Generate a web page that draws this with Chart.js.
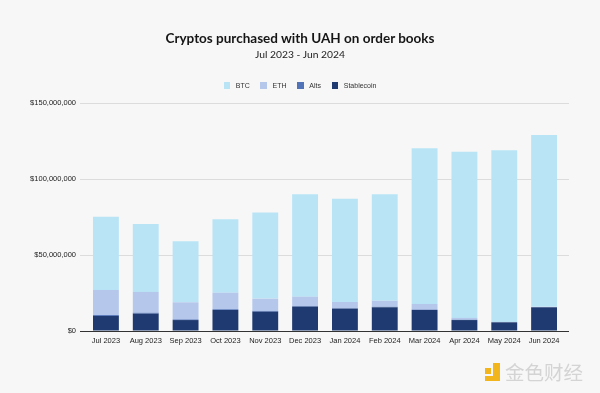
<!DOCTYPE html>
<html>
<head>
<meta charset="utf-8">
<script src="https://cdn.jsdelivr.net/npm/chart.js@4.4.1/dist/chart.umd.min.js"></script>
<style>
  html, body { margin: 0; padding: 0; background: #f7f7f7; }
  #wrap { position: relative; width: 600px; height: 393px; overflow: hidden; background: #f7f7f7; }
  canvas { position: absolute; left: 0; top: 0; }
  .title { position: absolute; left: 100px; width: 400px; text-align: center; white-space: nowrap; line-height: 1; }
  #t1 { top: 30.3px; font: bold 13.5px "Lato", "Open Sans", sans-serif; color: #151515; }
  #t2 { top: 47.6px; font: 10.3px "Lato", "Open Sans", sans-serif; color: #222; }
  #legend { position: absolute; top: 81.7px; left: 100px; width: 400px; display: flex; justify-content: center; font: 7px "Liberation Sans", Arial, sans-serif; color: #333; line-height: 8px; }
  #legend .item { display: flex; align-items: center; margin: 0 5.3px; }
  #legend .box { width: 6.7px; height: 6.7px; margin-right: 5.5px; }
  #wm { position: absolute; left: 505px; top: 361px; font: 19.5px "Noto Sans CJK SC", sans-serif; line-height: 22px; color: #d4d4d4; }
  #ic1 { position: absolute; left: 485px; top: 368px; width: 6px; height: 6px; background: #f2b51c; }
  #ic2 { position: absolute; left: 493px; top: 363px; width: 7px; height: 18px; background: #f2b51c; }
  #ic3 { position: absolute; left: 485px; top: 376px; width: 15px; height: 5px; background: #f2b51c; }
</style>
</head>
<body>
<div id="wrap">
  <canvas id="c" width="600" height="393"></canvas>
  <div class="title" id="t1">Cryptos purchased with UAH on order books</div>
  <div class="title" id="t2">Jul 2023 - Jun 2024</div>
  <div id="legend"></div>
  <div id="ic1"></div><div id="ic2"></div><div id="ic3"></div>
  <div id="wm">金色财经</div>
</div>
<script>
const categories = ["Jul 2023","Aug 2023","Sep 2023","Oct 2023","Nov 2023","Dec 2023","Jan 2024","Feb 2024","Mar 2024","Apr 2024","May 2024","Jun 2024"];
const stablecoin = [9.9, 11.4, 7.2, 13.8, 12.7, 16.0, 14.7, 15.6, 13.8, 7.2, 5.7, 15.6].map(v => v * 1e6);
const alts       = [0.6, 0.6, 0.4, 0.5, 0.5, 0.4, 0.3, 0.3, 0.3, 0.2, 0.1, 0.1].map(v => v * 1e6);
const eth        = [16.5, 13.7, 11.3, 10.9, 8.1, 6.2, 4.1, 4.0, 3.7, 1.2, 0.2, 0.2].map(v => v * 1e6);
const btc        = [48.2, 44.7, 40.1, 48.3, 56.7, 67.4, 67.9, 70.1, 102.4, 109.4, 112.9, 113.1].map(v => v * 1e6);
const yTicks = [0, 50000000, 100000000, 150000000];

const colors = { BTC: "#b9e4f6", ETH: "#b5c8ec", Alts: "#5173b8", Stablecoin: "#1f3a70" };

const datasets = [
  { label: "Stablecoin", data: stablecoin, backgroundColor: colors.Stablecoin },
  { label: "Alts", data: alts, backgroundColor: colors.Alts },
  { label: "ETH", data: eth, backgroundColor: colors.ETH },
  { label: "BTC", data: btc, backgroundColor: colors.BTC }
];

const fmt = v => "$" + Math.round(v).toLocaleString("en-US");
const gridCol = ctx => (ctx.tick && ctx.tick.value === 0) ? "#333" : "#dcdcdc";

const chart = new Chart(document.getElementById("c"), {
  type: "bar",
  data: { labels: categories, datasets: datasets.map(d => Object.assign({ barPercentage: 0.65, categoryPercentage: 1.0, borderWidth: 0 }, d)) },
  options: {
    responsive: false,
    animation: false,
    layout: { padding: { left: 0, right: 31, top: 103, bottom: 0 } },
    plugins: { legend: { display: false }, title: { display: false }, tooltip: { enabled: false } },
    scales: {
      x: {
        stacked: true,
        grid: { display: false, drawTicks: false },
        border: { display: true, color: "#333", width: 1 },
        ticks: { font: { family: "Liberation Sans", size: 7.5 }, color: "#222", padding: 5, maxRotation: 0, autoSkip: false },
        afterFit: s => { s.height = 62; }
      },
      y: {
        stacked: true,
        min: 0, max: 150000000,
        afterBuildTicks: s => { s.ticks = yTicks.map(v => ({ value: v })); },
        grid: { color: gridCol, lineWidth: 1, tickLength: 6, drawTicks: true },
        border: { display: false },
        ticks: { font: { family: "Liberation Sans", size: 7.5 }, color: "#222", padding: 4, callback: v => fmt(v) },
        afterFit: s => { s.width = 86; }
      },
      y2: {
        position: "right",
        min: 0, max: 150000000,
        afterBuildTicks: s => { s.ticks = yTicks.map(v => ({ value: v })); },
        grid: { color: gridCol, lineWidth: 1, tickLength: 5, drawTicks: true, drawOnChartArea: false },
        border: { display: false },
        ticks: { display: false },
        afterFit: s => { s.width = 5; }
      }
    }
  }
});

// HTML legend built from the chart's datasets (top of stack first)
const lg = document.getElementById("legend");
chart.data.datasets.slice().reverse().forEach(d => {
  const it = document.createElement("div"); it.className = "item";
  const b = document.createElement("div"); b.className = "box"; b.style.background = d.backgroundColor;
  const t = document.createElement("span"); t.textContent = d.label;
  it.appendChild(b); it.appendChild(t); lg.appendChild(it);
});
</script>
</body>
</html>
